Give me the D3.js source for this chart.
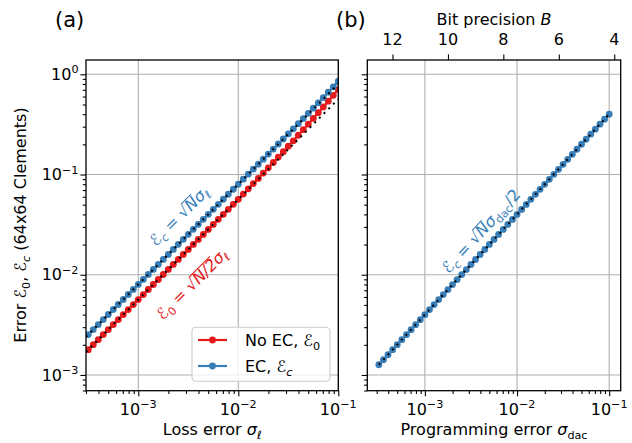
<!DOCTYPE html>
<html>
<head>
<meta charset="utf-8">
<script src="https://cdn.jsdelivr.net/npm/d3@7"></script>
<style>
  body { margin: 0; background: #fff; }
  text { font-family: "DejaVu Sans", sans-serif; }
</style>
</head>
<body>
<script>
// data (51 log-spaced points per curve)
const sigmaLoss = [
  3.162e-4, 3.548e-4, 3.981e-4, 4.467e-4, 5.012e-4, 5.623e-4, 6.310e-4, 7.079e-4, 7.943e-4, 8.913e-4,
  1.000e-3, 1.122e-3, 1.259e-3, 1.413e-3, 1.585e-3, 1.778e-3, 1.995e-3, 2.239e-3, 2.512e-3, 2.818e-3,
  3.162e-3, 3.548e-3, 3.981e-3, 4.467e-3, 5.012e-3, 5.623e-3, 6.310e-3, 7.079e-3, 7.943e-3, 8.913e-3,
  1.000e-2, 1.122e-2, 1.259e-2, 1.413e-2, 1.585e-2, 1.778e-2, 1.995e-2, 2.239e-2, 2.512e-2, 2.818e-2,
  3.162e-2, 3.548e-2, 3.981e-2, 4.467e-2, 5.012e-2, 5.623e-2, 6.310e-2, 7.079e-2, 7.943e-2, 8.913e-2,
  1.000e-1
];
const errNoEC = [
  1.789e-3, 2.007e-3, 2.252e-3, 2.527e-3, 2.835e-3, 3.181e-3, 3.570e-3, 4.005e-3, 4.493e-3, 5.042e-3,
  5.657e-3, 6.347e-3, 7.122e-3, 7.993e-3, 8.966e-3, 1.006e-2, 1.129e-2, 1.267e-2, 1.421e-2, 1.594e-2,
  1.789e-2, 2.007e-2, 2.252e-2, 2.527e-2, 2.835e-2, 3.181e-2, 3.570e-2, 4.005e-2, 4.493e-2, 5.042e-2,
  5.657e-2, 6.379e-2, 7.193e-2, 8.113e-2, 9.145e-2, 0.1033, 0.1167, 0.1320, 0.1492, 0.1690,
  0.1914, 0.2168, 0.2466, 0.2805, 0.3189, 0.3626, 0.4141, 0.4726, 0.5392, 0.6176,
  0.7071
];
const errEC = [
  2.530e-3, 2.838e-3, 3.185e-3, 3.574e-3, 4.010e-3, 4.498e-3, 5.048e-3, 5.663e-3, 6.354e-3, 7.130e-3,
  8.000e-3, 8.976e-3, 1.007e-2, 1.130e-2, 1.268e-2, 1.422e-2, 1.596e-2, 1.791e-2, 2.010e-2, 2.254e-2,
  2.530e-2, 2.838e-2, 3.185e-2, 3.574e-2, 4.010e-2, 4.498e-2, 5.048e-2, 5.663e-2, 6.354e-2, 7.130e-2,
  8.000e-2, 8.976e-2, 0.1007, 0.1130, 0.1268, 0.1422, 0.1598, 0.1795, 0.2016, 0.2263,
  0.2543, 0.2858, 0.3217, 0.3620, 0.4078, 0.4597, 0.5189, 0.5861, 0.6627, 0.7508,
  0.8520
];
const sigmaDac = sigmaLoss;
const errDac = [
  1.265e-3, 1.419e-3, 1.592e-3, 1.787e-3, 2.005e-3, 2.249e-3, 2.524e-3, 2.832e-3, 3.177e-3, 3.565e-3,
  4.000e-3, 4.488e-3, 5.036e-3, 5.652e-3, 6.340e-3, 7.112e-3, 7.980e-3, 8.956e-3, 1.005e-2, 1.127e-2,
  1.265e-2, 1.419e-2, 1.592e-2, 1.787e-2, 2.005e-2, 2.249e-2, 2.524e-2, 2.832e-2, 3.177e-2, 3.565e-2,
  4.000e-2, 4.488e-2, 5.036e-2, 5.652e-2, 6.340e-2, 7.112e-2, 7.980e-2, 8.956e-2, 0.1005, 0.1127,
  0.1265, 0.1419, 0.1592, 0.1787, 0.2005, 0.2249, 0.2524, 0.2832, 0.3177, 0.3565,
  0.4000
];
// theory lines (straight in log-log, endpoints)
const theoryLossX = [3e-4, 0.1];
const theoryEC = [2.4e-3, 0.8];
const theoryNoEC = [1.697e-3, 0.5657];
const theoryDacX = [3.162e-4, 0.1];
const theoryDac = [1.265e-3, 0.4];
// top axis of (b)
const bitTicks = [12, 10, 8, 6, 4];
const bitSigma = [4.45e-4, 1.78e-3, 7.1e-3, 2.84e-2, 0.1135];

const xMajorA = [1e-3, 1e-2, 1e-1];
const xMajorB = [1e-3, 1e-2, 1e-1];
const yMajor = [1e-3, 1e-2, 1e-1, 1];

const RED = '#e41a1c', BLUE = '#377eb8';
const FS = 16;

const svg = d3.select('body').append('svg').attr('width', 632).attr('height', 443);

const boxA = {left: 86, right: 338.3, top: 60, bottom: 390.7};
const boxB = {left: 367.3, right: 620.7, top: 60, bottom: 390.7};

const xA = d3.scaleLog().domain([3e-4, 0.1]).range([boxA.left, boxA.right]);
const xB = d3.scaleLog().domain([Math.pow(10, -3.625), Math.pow(10, -0.875)]).range([boxB.left, boxB.right]);
const y = d3.scaleLog().domain([Math.pow(10, -3.157), Math.pow(10, 0.1427)]).range([boxA.bottom, boxA.top]);

function minorTicks(dom) {
  const out = [];
  for (let e = -5; e <= 1; e++) {
    for (let m = 2; m <= 9; m++) {
      const v = m * Math.pow(10, e);
      if (v >= dom[0] * 0.999 && v <= dom[1] * 1.001) out.push(v);
    }
  }
  return out;
}

// text made of pieces: {t, it, sub, sup}
function mathText(text, parts, fs) {
  let cur = 0;
  parts.forEach((p) => {
    const target = p.sub ? 0.22 * fs : (p.sup ? -0.42 * fs : 0);
    const ts = text.append('tspan').text(p.t).attr('dy', target - cur);
    cur = target;
    if (p.sub || p.sup) ts.attr('font-size', fs * 0.7);
    if (p.it) ts.attr('font-style', 'italic');
  });
  return text;
}

function powLabel(exp) {
  return [{t: '10'}, {t: exp, sup: true}];
}

function drawPanel(box, x, xMajor, opts) {
  const g = svg.append('g');
  const id = 'clip' + opts.name;
  svg.append('clipPath').attr('id', id).append('rect')
    .attr('x', box.left).attr('y', box.top)
    .attr('width', box.right - box.left).attr('height', box.bottom - box.top);

  // grid
  g.append('g').selectAll('line').data(xMajor).join('line')
    .attr('x1', d => x(d)).attr('x2', d => x(d))
    .attr('y1', box.top).attr('y2', box.bottom)
    .attr('stroke', '#b0b0b0').attr('stroke-width', 1.1);
  g.append('g').selectAll('line').data(yMajor).join('line')
    .attr('x1', box.left).attr('x2', box.right)
    .attr('y1', d => y(d)).attr('y2', d => y(d))
    .attr('stroke', '#b0b0b0').attr('stroke-width', 1.1);

  // data
  const plot = g.append('g').attr('clip-path', `url(#${id})`);
  const line = d3.line().x(d => x(d[0])).y(d => y(d[1]));
  opts.series.forEach((s) => {
    const pts = s.xs.map((v, i) => [v, s.ys[i]]);
    plot.append('path').attr('d', line(pts))
      .attr('fill', 'none').attr('stroke', s.color).attr('stroke-width', 2.2);
    plot.append('g').selectAll('circle').data(pts).join('circle')
      .attr('cx', d => x(d[0])).attr('cy', d => y(d[1])).attr('r', 3.4)
      .attr('fill', s.color);
  });
  opts.theory.forEach((t) => {
    const pts = t.xs.map((v, i) => [v, t.ys[i]]);
    plot.append('path').attr('d', line(pts))
      .attr('fill', 'none').attr('stroke', '#000').attr('stroke-width', 2)
      .attr('stroke-dasharray', '2,4.6');
  });

  // ticks
  const tickStyle = (sel) => {
    sel.select('.domain').remove();
    sel.selectAll('.tick line').attr('stroke', '#000').attr('stroke-width', 1.1);
    sel.selectAll('.tick text').remove();
  };
  g.append('g').attr('transform', `translate(0,${box.bottom})`)
    .call(d3.axisBottom(x).tickValues(xMajor).tickSize(5.6).tickFormat('')).call(tickStyle);
  g.append('g').attr('transform', `translate(0,${box.bottom})`)
    .call(d3.axisBottom(x).tickValues(minorTicks(x.domain())).tickSize(3.2).tickFormat('')).call(tickStyle);
  g.append('g').attr('transform', `translate(${box.left},0)`)
    .call(d3.axisLeft(y).tickValues(yMajor).tickSize(5.6).tickFormat('')).call(tickStyle);
  g.append('g').attr('transform', `translate(${box.left},0)`)
    .call(d3.axisLeft(y).tickValues(minorTicks(y.domain())).tickSize(3.2).tickFormat('')).call(tickStyle);

  // x tick labels
  const xExp = {1e-3: '−3', 1e-2: '−2', 1e-1: '−1'};
  xMajor.forEach((v) => {
    const t = g.append('text').attr('x', x(v)).attr('y', 415)
      .attr('text-anchor', 'middle').attr('font-size', FS);
    mathText(t, powLabel(xExp[v]), FS);
  });
  if (opts.yLabels) {
    const yExp = {1e-3: '−3', 1e-2: '−2', 1e-1: '−1', 1: '0'};
    yMajor.forEach((v) => {
      const t = g.append('text').attr('x', box.left - 7.5).attr('y', y(v) + 5.7)
        .attr('text-anchor', 'end').attr('font-size', FS);
      mathText(t, powLabel(yExp[v]), FS);
    });
  }

  // spines
  g.append('rect').attr('x', box.left).attr('y', box.top)
    .attr('width', box.right - box.left).attr('height', box.bottom - box.top)
    .attr('fill', 'none').attr('stroke', '#000').attr('stroke-width', 1.3);
  return g;
}

const gA = drawPanel(boxA, xA, xMajorA, {
  name: 'A', yLabels: true,
  series: [
    {xs: sigmaLoss, ys: errNoEC, color: RED},
    {xs: sigmaLoss, ys: errEC, color: BLUE}
  ],
  theory: [
    {xs: theoryLossX, ys: theoryEC},
    {xs: theoryLossX, ys: theoryNoEC}
  ]
});

const gB = drawPanel(boxB, xB, xMajorB, {
  name: 'B', yLabels: false,
  series: [{xs: sigmaDac, ys: errDac, color: BLUE}],
  theory: [{xs: theoryDacX, ys: theoryDac}]
});

// top axis: bit precision
gB.append('g').attr('transform', `translate(0,${boxB.top})`)
  .call(d3.axisTop(xB).tickValues(bitSigma).tickSize(5.6).tickFormat(''))
  .call((sel) => {
    sel.select('.domain').remove();
    sel.selectAll('.tick line').attr('stroke', '#000').attr('stroke-width', 1.1);
  });
gB.append('g').selectAll('text').data(bitTicks).join('text')
  .attr('x', (d, i) => xB(bitSigma[i])).attr('y', 45)
  .attr('text-anchor', 'middle').attr('font-size', FS)
  .text(d => d);
mathText(svg.append('text').attr('x', (boxB.left + boxB.right) / 2).attr('y', 25)
  .attr('text-anchor', 'middle').attr('font-size', FS),
  [{t: 'Bit precision '}, {t: 'B', it: true}], FS);

// axis labels
mathText(svg.append('text').attr('x', (boxA.left + boxA.right) / 2).attr('y', 435)
  .attr('text-anchor', 'middle').attr('font-size', FS),
  [{t: 'Loss error '}, {t: 'σ', it: true}, {t: 'ℓ', sub: true}], FS);
mathText(svg.append('text').attr('x', (boxB.left + boxB.right) / 2).attr('y', 435)
  .attr('text-anchor', 'middle').attr('font-size', FS),
  [{t: 'Programming error '}, {t: 'σ', it: true}, {t: 'dac', sub: true}], FS);
mathText(svg.append('text').attr('transform', 'translate(26,225) rotate(-90)')
  .attr('text-anchor', 'middle').attr('font-size', FS),
  [{t: 'Error '}, {t: 'ℰ'}, {t: '0', sub: true}, {t: ', '}, {t: 'ℰ'}, {t: 'c', sub: true, it: true},
   {t: ' (64x64 Clements)'}], FS);

// panel letters
svg.append('text').attr('x', 55).attr('y', 27).attr('font-size', 21).text('(a)');
svg.append('text').attr('x', 336).attr('y', 27).attr('font-size', 21).text('(b)');

// rotated formula annotations, with radical overline
function annotate(cx, cy, angle, color, fs, parts) {
  const g = svg.append('g').attr('transform', `translate(${cx},${cy}) rotate(${angle})`);
  const t = g.append('text').attr('x', 0).attr('y', 0.35 * fs)
    .attr('text-anchor', 'middle').attr('font-size', fs).attr('fill', color);
  mathText(t, parts, fs);
  let idx = 0;
  const node = t.node();
  parts.forEach((p) => {
    if (p.over) {
      const xs = node.getEndPositionOfChar(idx - 1).x - 0.6;
      const xe = node.getEndPositionOfChar(idx + p.t.length - 1).x + 0.5;
      g.append('line').attr('x1', xs).attr('x2', xe)
        .attr('y1', 0.35 * fs - 0.78 * fs).attr('y2', 0.35 * fs - 0.78 * fs)
        .attr('stroke', color).attr('stroke-width', 1);
    }
    idx += p.t.length;
  });
}

annotate(179, 216, -45, BLUE, 16,
  [{t: 'ℰ'}, {t: 'c', sub: true, it: true}, {t: ' = '}, {t: '√'}, {t: 'N', it: true, over: true},
   {t: 'σ', it: true}, {t: 'ℓ', sub: true}]);
annotate(192, 284, -45, RED, 16,
  [{t: 'ℰ'}, {t: '0', sub: true}, {t: ' = '}, {t: '√'}, {t: 'N/2', it: true, over: true},
   {t: 'σ', it: true}, {t: 'ℓ', sub: true}]);
annotate(481, 231, -47.4, BLUE, 16,
  [{t: 'ℰ'}, {t: 'c', sub: true, it: true}, {t: ' = '}, {t: '√'}, {t: 'N', it: true, over: true},
   {t: 'σ', it: true}, {t: 'dac', sub: true}, {t: '/2'}]);

// legend
const leg = gA.append('g');
leg.append('rect').attr('x', 192).attr('y', 327.3).attr('width', 138).attr('height', 54)
  .attr('rx', 4).attr('fill', '#fff').attr('fill-opacity', 0.8)
  .attr('stroke', '#cccccc').attr('stroke-width', 1.1);
const legItems = [
  {color: RED, y: 340, parts: [{t: 'No EC, '}, {t: 'ℰ'}, {t: '0', sub: true}]},
  {color: BLUE, y: 366, parts: [{t: 'EC, '}, {t: 'ℰ'}, {t: 'c', sub: true, it: true}]}
];
legItems.forEach((d) => {
  leg.append('line').attr('x1', 198).attr('x2', 227).attr('y1', d.y).attr('y2', d.y)
    .attr('stroke', d.color).attr('stroke-width', 2.2);
  leg.append('circle').attr('cx', 212.5).attr('cy', d.y).attr('r', 3.4).attr('fill', d.color);
  mathText(leg.append('text').attr('x', 245).attr('y', d.y + 6).attr('font-size', FS), d.parts, FS);
});
</script>
</body>
</html>
